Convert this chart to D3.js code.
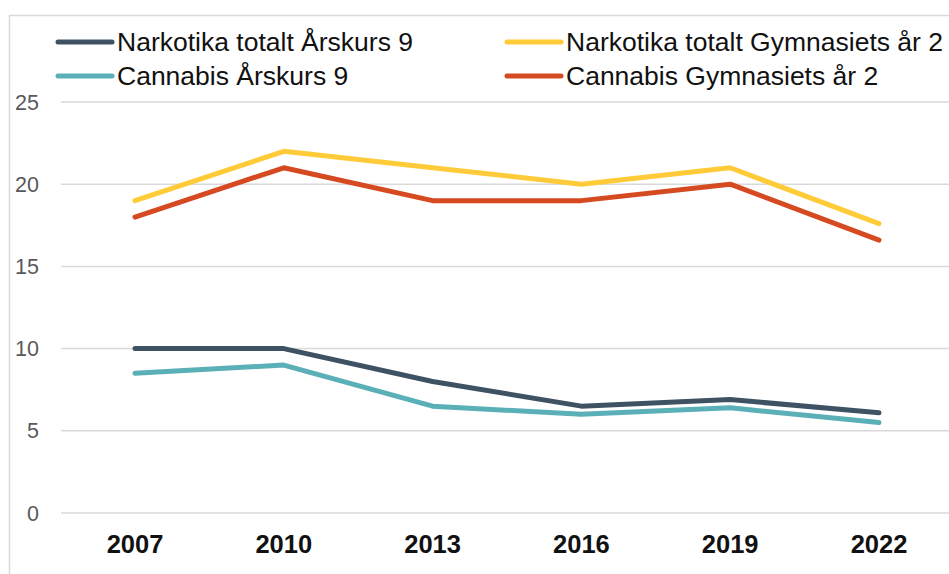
<!DOCTYPE html>
<html>
<head>
<meta charset="utf-8">
<script src="https://cdn.jsdelivr.net/npm/d3@7"></script>
<style>
  body { margin: 0; background: #fff; }
  svg { display: block; font-family: "Liberation Sans", Arial, sans-serif; }
</style>
</head>
<body>
<svg width="949" height="574"></svg>
<script>
const years = ['2007', '2010', '2013', '2016', '2019', '2022']
const narkotikaAk9 = [10, 10, 8, 6.5, 6.9, 6.1]
const cannabisAk9 = [8.5, 9, 6.5, 6, 6.4, 5.5]
const narkotikaGy2 = [19, 22, 21, 20, 21, 17.6]
const cannabisGy2 = [18, 21, 19, 19, 20, 16.6]
const yTicks = [0, 5, 10, 15, 20, 25]

const series = [
  { name: 'Narkotika totalt Årskurs 9', values: narkotikaAk9, color: '#3e5263' },
  { name: 'Narkotika totalt Gymnasiets år 2', values: narkotikaGy2, color: '#ffcb38' },
  { name: 'Cannabis Årskurs 9', values: cannabisAk9, color: '#5bb0b8' },
  { name: 'Cannabis Gymnasiets år 2', values: cannabisGy2, color: '#d64a22' }
]

const svg = d3.select('svg')

// outer frame
svg.append('rect')
  .attr('x', 9.5).attr('y', 15.5)
  .attr('width', 960).attr('height', 600)
  .attr('fill', 'none')
  .attr('stroke', '#d9d9d9')
  .attr('stroke-width', 1.5)

const x = d3.scaleBand()
  .domain(years)
  .range([60.6, 953.4])

const y = d3.scaleLinear()
  .domain([0, 25])
  .range([513, 102])

// gridlines
svg.append('g')
  .selectAll('line')
  .data(yTicks)
  .enter()
  .append('line')
  .attr('x1', 61).attr('x2', 949)
  .attr('y1', d => y(d)).attr('y2', d => y(d))
  .attr('stroke', '#d9d9d9')
  .attr('stroke-width', 1.5)

// y labels
svg.append('g')
  .selectAll('text')
  .data(yTicks)
  .enter()
  .append('text')
  .attr('x', 39)
  .attr('y', d => y(d) + 7.5)
  .attr('text-anchor', 'end')
  .attr('fill', '#595959')
  .style('font-size', '21.5px')
  .text(d => d)

// x labels
svg.append('g')
  .selectAll('text')
  .data(years)
  .enter()
  .append('text')
  .attr('x', d => x(d) + x.bandwidth() / 2)
  .attr('y', 553)
  .attr('text-anchor', 'middle')
  .attr('fill', '#111')
  .style('font-size', '25.5px')
  .style('font-weight', 'bold')
  .text(d => d)

const line = d3.line()
  .x((d, i) => x(years[i]) + x.bandwidth() / 2)
  .y(d => y(d))

svg.append('g')
  .selectAll('path')
  .data(series)
  .enter()
  .append('path')
  .attr('d', d => line(d.values))
  .attr('fill', 'none')
  .attr('stroke', d => d.color)
  .attr('stroke-width', 5)
  .attr('stroke-linecap', 'round')
  .attr('stroke-linejoin', 'round')

// legend
const legend = svg.append('g')
  .selectAll('g')
  .data(series)
  .enter()
  .append('g')
  .attr('transform', (d, i) => `translate(${i % 2 === 0 ? 58 : 507}, ${i < 2 ? 42 : 76})`)

legend.append('line')
  .attr('x1', 0).attr('x2', 54)
  .attr('stroke', d => d.color)
  .attr('stroke-width', 5)
  .attr('stroke-linecap', 'round')

legend.append('text')
  .attr('x', 59)
  .attr('y', 9)
  .attr('fill', '#111')
  .style('font-size', '26.5px')
  .text(d => d.name)
</script>
</body>
</html>
